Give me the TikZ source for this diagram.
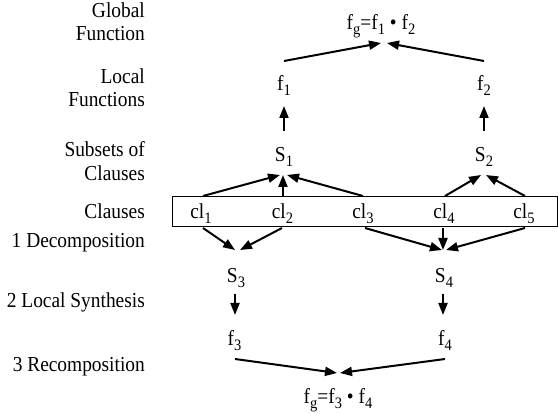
\documentclass[tikz,border=0pt]{standalone}
\usepackage{fontspec}
\setmainfont{Liberation Serif}
\usetikzlibrary{arrows.meta,calc}
\newcommand\lsub[1]{\raisebox{-4pt}{\fontsize{14.5}{14.5}\selectfont #1}}
\begin{document}
\begin{tikzpicture}[x=1pt,y=-1pt,
  font=\fontsize{19.4}{22}\selectfont,
  lbl/.style={anchor=base east, inner sep=0, yscale=1.1},
  txt/.style={anchor=base, inner sep=0, yscale=1.1},
  arr/.style={line width=2pt, -{Triangle[length=12pt,width=9pt]}}]
\useasboundingbox (0,0) rectangle (558,414);
% left labels
\node[lbl] (g1) at (145,18) {Global};
\node[lbl] (g2) at (145,41) {Function};
\node[lbl] (l1) at (145,84) {Local};
\node[lbl] (l2) at (145,107) {Functions};
\node[lbl] (sc1) at (145,157) {Subsets of};
\node[lbl] (sc2) at (145,181) {Clauses};
\node[lbl] (cll) at (145,219) {Clauses};
\node[lbl] (dec) at (145,248) {1 Decomposition};
\node[lbl] (syn) at (145,308) {2 Local Synthesis};
\node[lbl] (rec) at (145,372) {3 Recomposition};
% box
\node[draw, line width=0.9pt, minimum width=385pt, minimum height=30pt, inner sep=0] (box) at (364.5,211) {};
% texts
\node[txt] (fg1) at (381,30) {f\lsub{g}=f\lsub{1} \textbullet{} f\lsub{2}};
\node[txt] (f1) at (284,91) {f\lsub{1}};
\node[txt] (f2) at (484,91) {f\lsub{2}};
\node[txt] (S1) at (284,162) {S\lsub{1}};
\node[txt] (S2) at (484,162) {S\lsub{2}};
\node[txt] (cl1) at (201,219) {cl\lsub{1}};
\node[txt] (cl2) at (282.5,219) {cl\lsub{2}};
\node[txt] (cl3) at (363,219) {cl\lsub{3}};
\node[txt] (cl4) at (444,219) {cl\lsub{4}};
\node[txt] (cl5) at (524,219) {cl\lsub{5}};
\node[txt] (S3) at (236,283) {S\lsub{3}};
\node[txt] (S4) at (444,283) {S\lsub{4}};
\node[txt] (f3) at (234.5,346) {f\lsub{3}};
\node[txt] (f4) at (445,346) {f\lsub{4}};
\node[txt] (fg2) at (338,404) {f\lsub{g}=f\lsub{3} \textbullet{} f\lsub{4}};
% top part
\draw[arr] ($(f1.base)+(0,-30)$) -- ($(fg1.base)+(0,13)$);
\draw[arr] ($(f2.base)+(0,-30)$) -- ($(fg1.base)+(6,13)$);
\draw[arr] ($(S1.base)+(0,-31)$) -- ($(f1.base)+(0,15)$);
\draw[arr] ($(S2.base)+(0,-31)$) -- ($(f2.base)+(0,15)$);
\draw[arr] ($(cl1.base)+(2,-23)$) -- ($(S1.base)+(-4,13)$);
\draw[arr] ($(cl2.base)+(0.5,-23)$) -- ($(S1.base)+(-1,13)$);
\draw[arr] ($(cl3.base)+(0,-23)$) -- ($(S1.base)+(3,13)$);
\draw[arr] ($(cl4.base)+(1,-23)$) -- ($(S2.base)+(-3,13)$);
\draw[arr] ($(cl5.base)+(1,-23)$) -- ($(S2.base)+(2,13)$);
% bottom part
\draw[arr] ($(cl1.base)+(2,9)$) -- ($(S3.base)+(-1,-33)$);
\draw[arr] ($(cl2.base)+(-0.5,9)$) -- ($(S3.base)+(4,-33)$);
\draw[arr] ($(cl3.base)+(2,9)$) -- ($(S4.base)+(-2,-33)$);
\draw[arr] ($(cl4.base)+(-1,9)$) -- ($(S4.base)+(-1,-33)$);
\draw[arr] ($(cl5.base)+(1,9)$) -- ($(S4.base)+(2,-33)$);
\draw[arr] ($(S3.base)+(-1,11)$) -- ($(f3.base)+(0.5,-31)$);
\draw[arr] ($(S4.base)+(-1,11)$) -- ($(f4.base)+(-2,-31)$);
\draw[arr] ($(f3.base)+(0.5,13)$) -- ($(fg2.base)+(-1,-31)$);
\draw[arr] ($(f4.base)+(0,13)$) -- ($(fg2.base)+(2,-31)$);
\end{tikzpicture}
\end{document}
